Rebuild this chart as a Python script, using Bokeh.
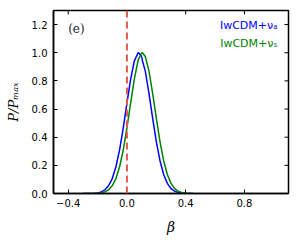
from bokeh.plotting import figure
from bokeh.models import Range1d, FixedTicker, Span, Label
from bokeh.embed import file_html
from bokeh.resources import INLINE

# beta grid and normalized posteriors
beta = [-0.3, -0.275, -0.25, -0.225, -0.2, -0.175, -0.15, -0.125, -0.1, -0.075,
        -0.05, -0.025, 0.0, 0.025, 0.05, 0.075, 0.08, 0.1, 0.105, 0.125, 0.15, 0.175,
        0.2, 0.225, 0.25, 0.275, 0.3, 0.325, 0.35, 0.375, 0.4, 0.425, 0.45]
p_nua = [0.0, 0.0002, 0.0005, 0.0016, 0.0044, 0.011, 0.026, 0.055, 0.106, 0.190,
         0.310, 0.466, 0.642, 0.811, 0.940, 0.998, 1.0, 0.973, 0.945, 0.869, 0.712, 0.535,
         0.369, 0.233, 0.135, 0.072, 0.035, 0.016, 0.0065, 0.0024, 0.0008, 0.0003, 0.0]
p_nus = [0.0, 0.0, 0.0002, 0.0005, 0.0016, 0.0044, 0.011, 0.026, 0.055, 0.106,
         0.190, 0.310, 0.466, 0.642, 0.811, 0.940, 0.958, 0.998, 1.0, 0.973, 0.869, 0.712,
         0.535, 0.369, 0.233, 0.135, 0.072, 0.035, 0.016, 0.0065, 0.0024, 0.0008, 0.0003]
series_names = ["IwCDM+νₐ", "IwCDM+νₛ"]
series_colors = ["#0000ff", "#008000"]
x_ticks = [-0.4, 0.0, 0.4, 0.8]
y_ticks = [0.0, 0.2, 0.4, 0.6, 0.8, 1.0, 1.2]
x_title = "β"
y_title = "P/Pₘₐₓ"
panel_tag = "(e)"
ref_beta = 0.0

X0, X1, Y0, Y1 = -0.5, 1.1, 0.0, 1.3
W, H = 291, 238
ML, MR, MT, MB = 53, 3, 10, 45
fw = W - ML - MR
fh = H - MT - MB
sx = (X1 - X0) / fw   # data per px
sy = (Y1 - Y0) / fh

p = figure(width=W, height=H, output_backend="svg", toolbar_location=None,
           x_range=Range1d(X0, X1), y_range=Range1d(Y0, Y1),
           min_border_left=ML, min_border_right=MR, min_border_top=MT, min_border_bottom=MB)
p.background_fill_color = "white"
p.border_fill_color = "white"
p.grid.visible = False
p.outline_line_color = "black"
p.outline_line_width = 1.5

def fmt(t):
    return ("%.1f" % t).replace("-", "−")

for ax, ticks in ((p.xaxis[0], x_ticks), (p.yaxis[0], y_ticks)):
    ax.ticker = FixedTicker(ticks=ticks)
    ax.major_label_overrides = {t: fmt(t) for t in ticks}
    ax.axis_line_color = "black"
    ax.axis_line_width = 1.5
    ax.major_tick_in = 4
    ax.major_tick_out = 0
    ax.major_tick_line_color = "black"
    ax.major_tick_line_width = 1
    ax.minor_tick_line_color = None
    ax.major_label_text_font = "DejaVu Sans"
    ax.major_label_text_font_size = "10px"
    ax.major_label_text_color = "black"
    ax.axis_label_text_font = "DejaVu Serif"
    ax.axis_label_text_font_style = "italic"
    ax.axis_label_text_color = "black"
    ax.axis_label_text_line_height = 1.0

xa = p.xaxis[0]
xa.major_label_standoff = 5
xa.axis_label = x_title
xa.axis_label_text_font_size = "14px"
xa.axis_label_standoff = 9

ya = p.yaxis[0]
ya.major_label_standoff = 6
ya.axis_label = y_title
ya.axis_label_text_font_size = "13px"
ya.axis_label_standoff = 8

# mirrored inward ticks on the top and right edges (4 px long)
p.segment(x0=x_ticks, y0=[Y1] * len(x_ticks), x1=x_ticks, y1=[Y1 - 4 * sy] * len(x_ticks),
          line_color="black", line_width=1)
p.segment(x0=[X1] * len(y_ticks), y0=y_ticks, x1=[X1 - 4 * sx] * len(y_ticks), y1=y_ticks,
          line_color="black", line_width=1)

p.add_layout(Span(location=ref_beta, dimension="height", line_color="#e35a50",
                  line_width=2, line_dash="7 4"))

p.line(beta, p_nua, line_color=series_colors[0], line_width=1.5)
p.line(beta, p_nus, line_color=series_colors[1], line_width=1.5)

for i, (name, col) in enumerate(zip(series_names, series_colors)):
    p.add_layout(Label(x=X1 - 11 * sx, y=Y1 - (15 + 18 * i) * sy, text=name, text_color=col,
                       text_align="right", text_baseline="middle",
                       text_font="DejaVu Sans", text_font_size="11px"))

p.add_layout(Label(x=-0.4, y=Y1 - 18 * sy, text=panel_tag, text_color="#222222",
                   text_align="left", text_baseline="middle",
                   text_font="DejaVu Serif", text_font_size="12px"))

open("out.html", "w").write(file_html(p, INLINE))
